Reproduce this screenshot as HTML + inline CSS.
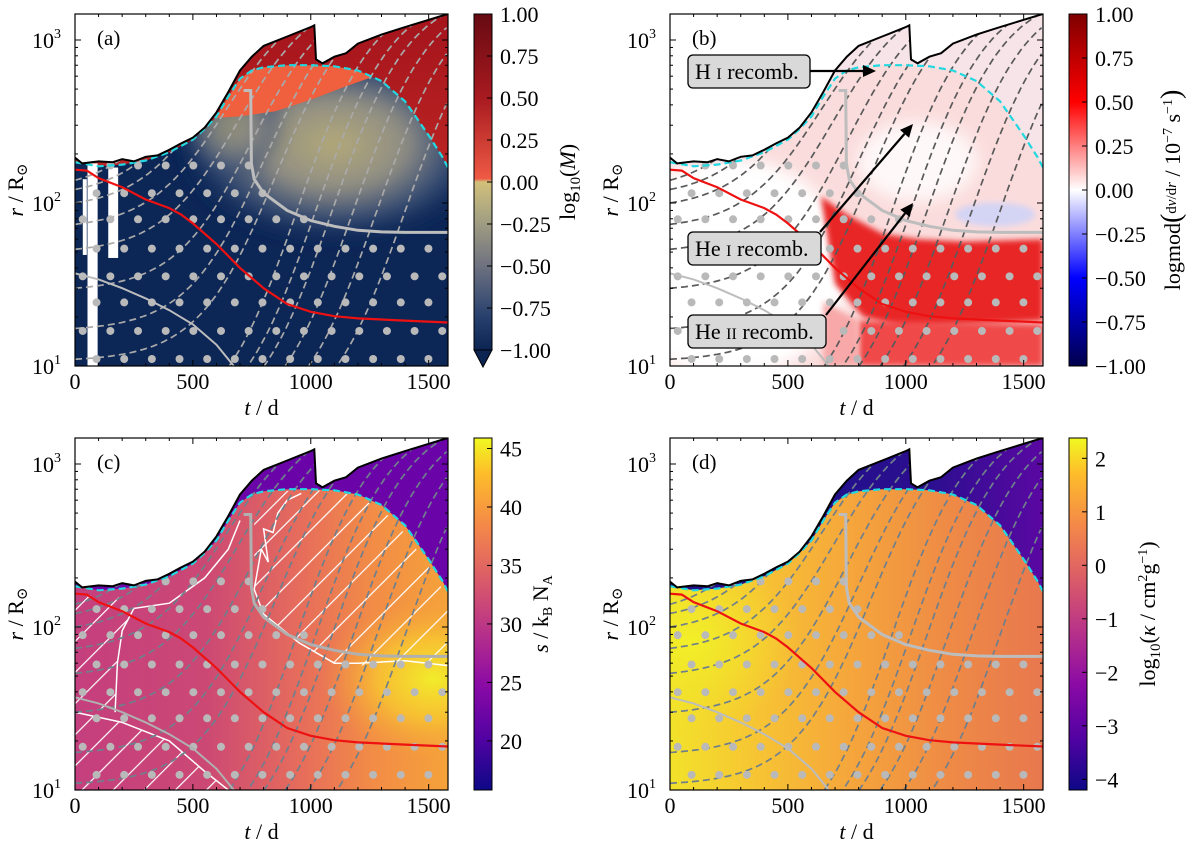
<!DOCTYPE html>
<html><head><meta charset="utf-8">
<style>
html,body{margin:0;padding:0;background:#fff;}
svg{display:block;font-family:"Liberation Serif","DejaVu Serif",serif;}
</style></head>
<body>
<svg id="fig" width="1200" height="855" viewBox="0 0 1200 855" xmlns="http://www.w3.org/2000/svg">
<defs>
<filter id="blur6" x="-50%" y="-50%" width="200%" height="200%"><feGaussianBlur stdDeviation="8"/></filter>
<filter id="blur3" x="-20%" y="-20%" width="140%" height="140%"><feGaussianBlur stdDeviation="3"/></filter>
<pattern id="hatch" patternUnits="userSpaceOnUse" width="22" height="22" patternTransform="rotate(45)"><line x1="0" y1="0" x2="0" y2="22" stroke="#fff" stroke-width="2.4"/></pattern>
<linearGradient id="cbA" x1="0" y1="0" x2="0" y2="1">
<stop offset="0" stop-color="#670a12"/><stop offset="0.25" stop-color="#a81a20"/><stop offset="0.49" stop-color="#ee5a44"/><stop offset="0.5" stop-color="#d2c07a"/><stop offset="0.6" stop-color="#a8a482"/><stop offset="0.75" stop-color="#6e7280"/><stop offset="0.9" stop-color="#28406e"/><stop offset="1" stop-color="#0c2452"/></linearGradient>
<linearGradient id="cbB" x1="0" y1="0" x2="0" y2="1">
<stop offset="0" stop-color="#7f0000"/><stop offset="0.25" stop-color="#ff0000"/><stop offset="0.5" stop-color="#ffffff"/><stop offset="0.75" stop-color="#0000ff"/><stop offset="1" stop-color="#00004c"/></linearGradient>
<linearGradient id="cbP" x1="0" y1="1" x2="0" y2="0">
<stop offset="0" stop-color="#0d0887"/><stop offset="0.15" stop-color="#5302a3"/><stop offset="0.3" stop-color="#8b0aa5"/><stop offset="0.45" stop-color="#b83289"/><stop offset="0.6" stop-color="#db5c68"/><stop offset="0.75" stop-color="#f48849"/><stop offset="0.9" stop-color="#febd2a"/><stop offset="1" stop-color="#f0f921"/></linearGradient>
<linearGradient id="bgAout" x1="0" y1="0" x2="0" y2="1"><stop offset="0" stop-color="#a4141c"/><stop offset="1" stop-color="#d8382c"/></linearGradient>
<radialGradient id="aGlow"><stop offset="0" stop-color="#b4aa78"/><stop offset="0.45" stop-color="#8f8d84"/><stop offset="0.75" stop-color="#40557a" stop-opacity="0.8"/><stop offset="1" stop-color="#0c2656" stop-opacity="0"/></radialGradient>
<linearGradient id="cDome" x1="0" y1="0" x2="1" y2="0"><stop offset="0" stop-color="#c43f7e"/><stop offset="0.35" stop-color="#cc4874"/><stop offset="0.6" stop-color="#e66c5c"/><stop offset="0.8" stop-color="#f28c46"/><stop offset="1" stop-color="#f5a23a"/></linearGradient>
<radialGradient id="cYel"><stop offset="0" stop-color="#f2ec2a"/><stop offset="0.5" stop-color="#f8c830" stop-opacity="0.8"/><stop offset="1" stop-color="#f5a23a" stop-opacity="0"/></radialGradient>
<linearGradient id="dDome" x1="0" y1="0" x2="1" y2="0"><stop offset="0" stop-color="#f2e22a"/><stop offset="0.25" stop-color="#f7c234"/><stop offset="0.5" stop-color="#f5a43c"/><stop offset="0.75" stop-color="#ee8a46"/><stop offset="1" stop-color="#e8784e"/></linearGradient>
<linearGradient id="dOut" x1="0" y1="0" x2="1" y2="0"><stop offset="0.4" stop-color="#22108a"/><stop offset="0.7" stop-color="#2c0e90"/><stop offset="1" stop-color="#5a08a2"/></linearGradient>
<radialGradient id="dYel"><stop offset="0" stop-color="#f2f028"/><stop offset="1" stop-color="#f2e22a" stop-opacity="0"/></radialGradient>
</defs>
</svg>
<script>
// ---------- data ----------
const boundaryT = [0,30,100,160,200,250,300,350,400,450,500,550,600,650,700,750,800,900,1000,1015,1022,1050,1100,1150,1200,1300,1400,1500,1582];
const boundaryR = [190,175,180,178,186,180,192,196,212,232,252,290,360,480,650,790,920,1050,1200,1230,760,720,790,830,950,1080,1200,1330,1445];
const domeT = [0,100,200,300,400,500,550,600,650,700,750,800,900,1000,1100,1200,1300,1400,1500,1560,1582];
const domeR = [178,168,172,182,205,245,285,340,450,580,650,680,700,700,690,650,560,420,260,190,165];
const redT = [0,50,100,200,300,400,450,500,600,700,800,900,1000,1100,1200,1400,1582];
const redR = [160,158,142,125,105,93,85,75,56,40,30,24,21.5,20.2,19.6,19,18.5];
const grayLowT = [0,100,200,300,400,500,600,650,700];
const grayLowR = [37,34,30,26,22,18,13.5,11,9];
const grayHighT = [715,745,748,760,800,900,1000,1100,1200,1300,1400,1500,1582];
const grayHighR = [490,490,175,140,115,90,78,72,68,66.5,66,66,66];
const lineR0 = [138,121,100,74,52,30,17,11,4,4,4,4,4,4];
const lineTc = [470,530,580,640,690,750,800,850,940,1020,1090,1180,1280,1400];
const dotRowLogR = [2.23,2.06,1.9,1.72,1.55,1.39,1.215,1.043];
const dotRowTmin = [100,0,0,0,0,0,0,0];
const dotRowTmax = [750,850,1000,1580,1580,1580,1580,1580];
const xTicks = [0,500,1000,1500];
const cbTicksA = [1.00,0.75,0.50,0.25,0.00,-0.25,-0.50,-0.75,-1.00];
const cbTicksC = [20,25,30,35,40,45];
const cbTicksD = [2,1,0,-1,-2,-3,-4];

const NS="http://www.w3.org/2000/svg";
const svg=document.getElementById('fig');
function mk(tag,attrs,parent){const e=document.createElementNS(NS,tag);for(const k in attrs)e.setAttribute(k,attrs[k]);(parent||svg).appendChild(e);return e;}
const TMAX=1582, W=373, H=352, DEC=163;

function panel(cfg){
  const x0=cfg.x0,y0=cfg.y0,k=cfg.kind;
  const X=t=>x0+t*W/TMAX;
  const Y=r=>y0+H-(Math.log10(r)-1)*DEC;
  const g=mk('g',{});
  
  
  const pts=(T,R)=>T.map((t,i)=>X(t).toFixed(1)+','+Y(R[i]).toFixed(1));
  const under=(T,R)=>'M'+X(T[0])+','+(y0+H)+' L'+pts(T,R).join(' L')+' L'+X(T[T.length-1])+','+(y0+H)+' Z';
  const cp=mk('clipPath',{id:'plot'+k},g);mk('rect',{x:x0,y:y0,width:W,height:H},cp);
  const cb=mk('clipPath',{id:'ub'+k},g);mk('path',{d:under(boundaryT,boundaryR)},cb);
  const cd=mk('clipPath',{id:'dm'+k},g);mk('path',{d:under(domeT,domeR)},cd);
  const bg=mk('g',{'clip-path':'url(#plot'+k+')'},g);
  const outer=mk('path',{d:under(boundaryT,boundaryR)},bg);
  
  
  const dome=mk('path',{d:under(domeT,domeR)},bg);
  
  
  const inD=mk('g',{'clip-path':'url(#dm'+k+')'},bg);
  if(k==='a'){
    outer.setAttribute('fill','url(#bgAout)');dome.setAttribute('fill','#0c2656');
    mk('ellipse',{cx:X(1100),cy:Y(230),rx:160,ry:100,fill:'url(#aGlow)',filter:'url(#blur6)'},inD);
    mk('ellipse',{cx:X(660),cy:Y(300),rx:55,ry:55,fill:'url(#aGlow)',opacity:0.7,filter:'url(#blur6)'},inD);
    mk('polygon',{points:pts([500,1400,1400,1300,1150,1000,850,700,560],[3000,3000,700,620,520,430,365,340,330]).join(' '),fill:'#f0603f'},inD);
    const ubg=mk('g',{'clip-path':'url(#ub'+k+')'},bg);
    mk('rect',{x:X(53),y:Y(175),width:X(96)-X(53),height:y0+H-Y(175),fill:'#fff'},ubg);
    mk('rect',{x:X(141),y:Y(165),width:X(183)-X(141),height:Y(46)-Y(165),fill:'#fff'},ubg);
    mk('rect',{x:X(33),y:Y(140),width:X(50)-X(33),height:Y(48)-Y(140),fill:'#fff'},ubg);
  } else if(k==='b'){
    outer.setAttribute('fill','#f6e4e8');dome.setAttribute('fill','#fbdcdc');
    mk('ellipse',{cx:X(250),cy:Y(40),rx:120,ry:110,fill:'#ffffff',filter:'url(#blur6)'},inD);
    mk('ellipse',{cx:X(1050),cy:Y(180),rx:60,ry:40,fill:'#ffffff',opacity:0.8,filter:'url(#blur6)'},inD);
    mk('polygon',{points:pts([640,750,900,1050,1250,1582,1582,1300,1000,820,700],[110,85,65,60,58,60,19,18,17,20,32]).join(' '),fill:'#e82828',filter:'url(#blur3)'},inD);
    mk('polygon',{points:pts([800,1582,1582,800],[19,18,10,10]).join(' '),fill:'#f04848',filter:'url(#blur3)'},inD);
    mk('polygon',{points:pts([650,800,800,650],[25,19,10,10]).join(' '),fill:'#f8a8a8',filter:'url(#blur3)'},inD);
    mk('ellipse',{cx:X(1380),cy:Y(85),rx:40,ry:12,fill:'#d4d4f4',filter:'url(#blur3)'},inD);
  } else if(k==='c'){
    outer.setAttribute('fill','#6a04a8');dome.setAttribute('fill','url(#cDome)');
    mk('ellipse',{cx:X(1520),cy:Y(48),rx:110,ry:80,fill:'url(#cYel)'},inD);
    mk('polygon',{points:pts([760,1000,1200,1350,1480,1582,1582,1400,1200,1100,950,800,760],[660,700,640,460,260,150,62,60,58,60,80,120,170]).join(' '),fill:'url(#hatch)'},inD);
    mk('polygon',{points:pts([0,150,250,200,180,170,0],[150,165,130,95,60,30,33]).join(' '),fill:'url(#hatch)'},inD);
    mk('polygon',{points:pts([0,200,400,550,650,0],[30,26,20,13,10,10]).join(' '),fill:'url(#hatch)'},inD);
    mk('polyline',{points:pts([760,800,950,1100,1200,1400,1582],[170,120,80,60,60,62,58]).join(' '),fill:'none',stroke:'#fff','stroke-width':1.5},inD);
    mk('polyline',{points:pts([760,790,820,800,840,860,900,960],[170,300,250,400,380,500,600,660]).join(' '),fill:'none',stroke:'#fff','stroke-width':1.5},inD);
    mk('polyline',{points:pts([0,200,400,550,650],[30,26,20,13,10]).join(' '),fill:'none',stroke:'#fff','stroke-width':1.5},inD);
    mk('polyline',{points:pts([170,180,200,250,400,550,650,700],[30,60,95,130,140,200,300,450]).join(' '),fill:'none',stroke:'#fff','stroke-width':1.5},inD);
  } else {
    outer.setAttribute('fill','url(#dOut)');dome.setAttribute('fill','url(#dDome)');
    mk('ellipse',{cx:X(80),cy:Y(80),rx:110,ry:90,fill:'url(#dYel)'},inD);
  }
  // dashed trajectories
  const dl=mk('g',{'clip-path':'url(#ub'+k+')'},bg);
  const dcol = k==='a' ? '#a9a9a9' : (k==='b' ? '#5a5a5a' : '#6f7f8c');
  lineR0.forEach((r0,i)=>{
    const l0=Math.log10(r0),A=3.3-l0; let p=[];
    for(let t=0;t<=TMAX;t+=8){const s=1/(1+Math.exp(-(t-lineTc[i])/165));const s0=1/(1+Math.exp(lineTc[i]/165));p.push(X(t).toFixed(1)+','+(y0+H-(l0+A*(s-s0)/(1-s0)-1)*DEC).toFixed(1));}
    const pl=mk('polyline',{points:p.join(' '),fill:'none',stroke:dcol,'stroke-width':1.7,'stroke-dasharray':'7,4'},dl);
    
    
  });
  // dots
  const off=k<'c'?0:0.05;
  dotRowLogR.forEach((lr,i)=>{
    const o=i%2===0?32.7:91.4;
    for(let t=o;t<=dotRowTmax[i];t+=117.3){
      if(t<dotRowTmin[i])continue;
      const c=mk('circle',{cx:X(t),cy:y0+H-(lr+off-1)*DEC,r:4,fill:'#b9b9b9'},dl);
      
      
    }
  });
  const gcol = k==='c' ? '#b0b0b0' : '#bdbdbd';
  const g1=mk('polyline',{points:pts(grayLowT,grayLowR).join(' '),fill:'none',stroke:gcol,'stroke-width':2},bg);
  
  
  const g2=mk('polyline',{points:pts(grayHighT,grayHighR).join(' '),fill:'none',stroke:gcol,'stroke-width':3},bg);
  
  
  const rl=mk('polyline',{points:pts(redT,redR).join(' '),fill:'none',stroke:'#ee1111','stroke-width':2.2},bg);
  
  
  const cl=mk('polyline',{points:pts(domeT,domeR).join(' '),fill:'none',stroke:'#22d8e0','stroke-width':2.2,'stroke-dasharray':'7,4'},bg);
  
  
  const bl=mk('polyline',{points:pts(boundaryT,boundaryR).join(' '),fill:'none',stroke:'#000','stroke-width':2},bg);
  
  
  // frame + ticks
  mk('rect',{x:x0,y:y0,width:W,height:H,fill:'none',stroke:'#000','stroke-width':1.2},g);
  for(let t=0;t<=TMAX;t+=100){const mj=t%500===0,L=mj?6:3;
    mk('line',{x1:X(t),y1:y0+H,x2:X(t),y2:y0+H-L,stroke:'#000'},g);
    mk('line',{x1:X(t),y1:y0,x2:X(t),y2:y0+L,stroke:'#000'},g);}
  for(let d=1;d<=3;d++)for(let m=1;m<=9;m++){const r=m*Math.pow(10,d);if(Math.log10(r)>3.16)continue;const L=m===1?6:3;
    mk('line',{x1:x0,y1:Y(r),x2:x0+L,y2:Y(r),stroke:'#000'},g);
    mk('line',{x1:x0+W,y1:Y(r),x2:x0+W-L,y2:Y(r),stroke:'#000'},g);}
  const tl=mk('g',{'font-size':22,fill:'#000'},g);
  xTicks.forEach(v=>{const t=mk('text',{x:X(v),y:y0+H+23,'text-anchor':'middle'},tl);t.textContent=v;
    });
  [10,100,1000].forEach((r,i)=>{const t=mk('text',{x:x0-14,y:Y(r)+8,'text-anchor':'end'},tl);t.textContent='10';
    const s=mk('tspan',{dy:-10,'font-size':14},t);s.textContent=String(i+1);
    });
  const xl=mk('text',{x:x0+W/2,y:y0+H+49,'text-anchor':'middle','font-size':22},g);
  xl.innerHTML='<tspan font-style="italic">t</tspan> / d';
  
  const yl=mk('text',{x:0,y:0,'text-anchor':'middle','font-size':22,transform:`translate(${x0-52},${y0+H/2}) rotate(-90)`},g);
  yl.innerHTML='<tspan font-style="italic">r</tspan> / R<tspan font-size="15" dy="4">⊙</tspan>';
  
  const pl=mk('text',{x:x0+22,y:y0+31,'font-size':21},g);pl.textContent='('+k+')';
  
  return {X,Y,g};
}

function colorbar(x,y0,h,fill,ticks,vmax,vmin,fmt,label,lx,tri){
  const g=mk('g',{});
  
  
  mk('rect',{x:x,y:y0,width:18,height:h,fill:fill,stroke:'#000','stroke-width':1},g);
  if(tri){const tp=mk('polygon',{points:`${x},${y0+h} ${x+18},${y0+h} ${x+9},${y0+h+17}`,fill:'#0c2452',stroke:'#000'},g);
    }
  ticks.forEach(v=>{const yy=y0+(vmax-v)/(vmax-vmin)*h;
    mk('line',{x1:x+18,y1:yy,x2:x+13,y2:yy,stroke:'#000'},g);
    const t=mk('text',{x:x+26,y:yy+8,'font-size':22},g);t.textContent=fmt(v);
    });
  const l=mk('text',{x:0,y:0,'text-anchor':'middle','font-size':22,transform:`translate(${lx},${y0+h/2}) rotate(-90)`},g);
  l.innerHTML=label;
  
}
const f2=v=>(v<0?'\u2212':'')+Math.abs(v).toFixed(2);
const f0=v=>(v<0?'\u2212':'')+Math.abs(v);

panel({x0:75,y0:14,kind:'a'});
panel({x0:670,y0:14,kind:'b'});
panel({x0:75,y0:438,kind:'c'});
panel({x0:670,y0:438,kind:'d'});

colorbar(474,14,336,'url(#cbA)',cbTicksA,1,-1,f2,'log<tspan font-size="15" dy="5">10</tspan><tspan dy="-5">(</tspan><tspan font-style="italic">M</tspan>)',575,true);
colorbar(1069,14,352,'url(#cbB)',cbTicksA,1,-1,f2,'logmod<tspan font-size="28">(</tspan><tspan font-size="15" dy="-4">d<tspan font-style="italic">v</tspan>/d<tspan font-style="italic">r</tspan></tspan><tspan dy="4"> / 10</tspan><tspan font-size="14" dy="-8">−7</tspan><tspan dy="8"> s</tspan><tspan font-size="14" dy="-8">−1</tspan><tspan font-size="28" dy="8">)</tspan>',1180,false);
colorbar(474,438,352,'url(#cbP)',cbTicksC,45.9,15.8,f0,'<tspan font-style="italic">s</tspan> / k<tspan font-size="14" dy="4">B</tspan><tspan dy="-4"> N</tspan><tspan font-size="14" dy="4">A</tspan>',548,false);
colorbar(1069,438,352,'url(#cbP)',cbTicksD,2.38,-4.2,f0,'log<tspan font-size="15" dy="5">10</tspan><tspan dy="-5">(</tspan><tspan font-style="italic">κ</tspan> / cm<tspan font-size="14" dy="-8">2</tspan><tspan dy="8">g</tspan><tspan font-size="14" dy="-8">−1</tspan><tspan dy="8">)</tspan>',1155,false);

// annotations in panel b
function ann(bx,by,bw,label,name,ax,ay,tx,ty){
  const g=mk('g',{});
  
  
  const dx=tx-ax,dy=ty-ay,len=Math.hypot(dx,dy),ux=dx/len,uy=dy/len,hl=13,hw=6;
  const bxp=tx-ux*hl,byp=ty-uy*hl;
  mk('line',{x1:ax,y1:ay,x2:bxp,y2:byp,stroke:'#000','stroke-width':2.2},g);
  mk('polygon',{points:`${tx},${ty} ${bxp-uy*hw},${byp+ux*hw} ${bxp+uy*hw},${byp-ux*hw}`,fill:'#000'},g);
  mk('rect',{x:bx,y:by,width:bw,height:33,rx:5,fill:'#d9d9d9',stroke:'#000','stroke-width':1.3},g);
  const t=mk('text',{x:bx+7,y:by+24,'font-size':22},g);t.innerHTML=label;
}
ann(688,55,122,'H <tspan font-size="16">I</tspan> recomb.','annotation-h-i',810,71,876,71);
ann(688,232,133,'He <tspan font-size="16">I</tspan> recomb.','annotation-he-i',820,232,913,124);
ann(688,315,138,'He <tspan font-size="16">II</tspan> recomb.','annotation-he-ii',826,315,913,203);
</script>
</body></html>
